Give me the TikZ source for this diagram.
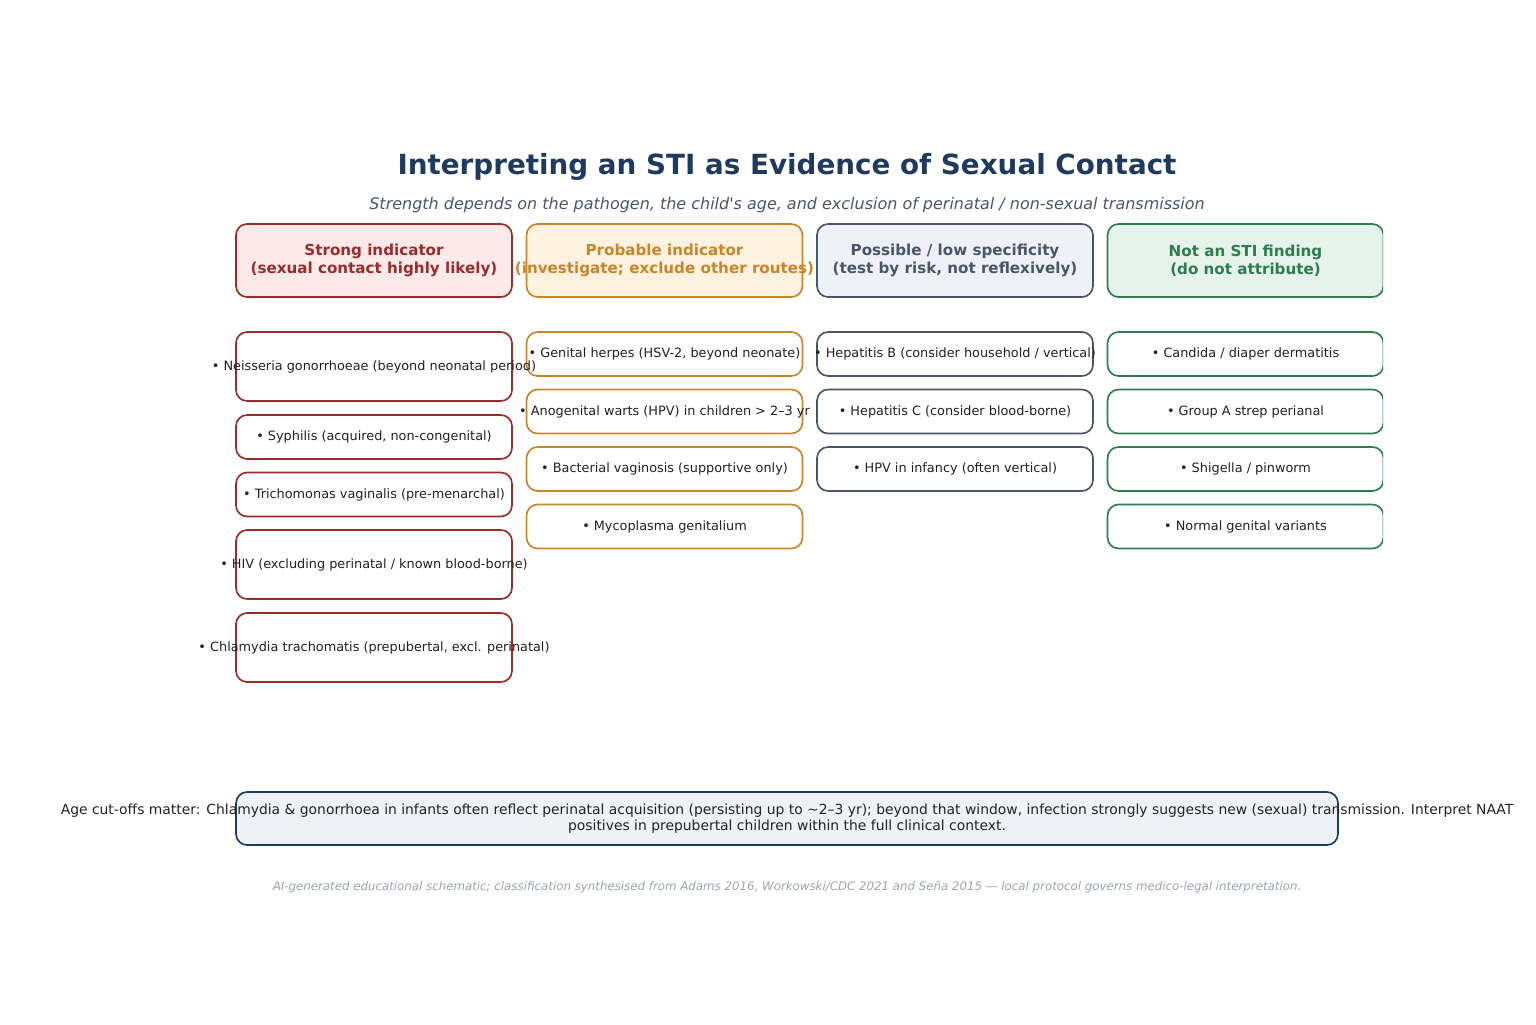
\documentclass[tikz,border=0pt]{standalone}
\usepackage{fontspec}
\setmainfont{DejaVu Sans}
\definecolor{titleblue}{HTML}{1F3A5F}
\definecolor{subgrey}{HTML}{4A5568}
\definecolor{footgrey}{HTML}{9CA3AF}
\definecolor{ink}{HTML}{222222}
\definecolor{strongc}{HTML}{9B2C2C}
\definecolor{strongf}{HTML}{FCEAEA}
\definecolor{probc}{HTML}{C8862A}
\definecolor{probf}{HTML}{FDF1E0}
\definecolor{possc}{HTML}{4A5568}
\definecolor{possf}{HTML}{EEF2F8}
\definecolor{notc}{HTML}{2F7D4F}
\definecolor{notf}{HTML}{E6F2EC}
\tikzset{
  box/.style={draw, line width=1.2pt, rounded corners=8pt, minimum width=198.7pt, inner sep=0pt},
  headbox/.style={box, minimum height=52.6pt},
  itembox/.style={box, fill=white, minimum height=31.7pt},
  tallbox/.style={box, fill=white, minimum height=49.7pt},
  headtext/.style={font=\fontsize{10.9}{12.6}\selectfont\bfseries, align=center},
  itemtext/.style={font=\fontsize{9.25}{10}\selectfont, text=ink}
}
\begin{document}
\begin{tikzpicture}[x=0.72pt, y=-0.72pt]
\useasboundingbox (0,0) rectangle (1536,1024);
\pgfmathsetmacro{\ca}{374}
\pgfmathsetmacro{\cb}{664.5}
\pgfmathsetmacro{\cc}{955}
\pgfmathsetmacro{\cd}{1245.5}
% title
\node[font=\fontsize{20}{24}\selectfont\bfseries, text=titleblue] (title) at (787,167) {Interpreting an STI as Evidence of Sexual Contact};
\node[font=\fontsize{11.5}{13}\selectfont\itshape, text=subgrey] (subtitle) at (787,205) {Strength depends on the pathogen, the child\textquotesingle s age, and exclusion of perinatal / non-sexual transmission};
% boxes
\node[headbox, draw=strongc, fill=strongf] (hs) at (\ca,260.5) {};
\node[headbox, draw=probc, fill=probf] (hp) at (\cb,260.5) {};
\node[headbox, draw=possc, fill=possf] (hq) at (\cc,260.5) {};
\node[tallbox, draw=strongc] (s1) at (\ca,366.5) {};
\node[itembox, draw=strongc] (s2) at (\ca,437) {};
\node[itembox, draw=strongc] (s3) at (\ca,494.5) {};
\node[tallbox, draw=strongc] (s4) at (\ca,564.5) {};
\node[tallbox, draw=strongc] (s5) at (\ca,647.5) {};
\node[itembox, draw=probc] (p1) at (\cb,354) {};
\node[itembox, draw=probc] (p2) at (\cb,411.5) {};
\node[itembox, draw=probc] (p3) at (\cb,469) {};
\node[itembox, draw=probc] (p4) at (\cb,526.5) {};
\node[itembox, draw=possc] (q1) at (\cc,354) {};
\node[itembox, draw=possc] (q2) at (\cc,411.5) {};
\node[itembox, draw=possc] (q3) at (\cc,469) {};
% last column is cut at the right edge
\begin{scope}
\clip (0,0) rectangle (1383,1024);
\node[headbox, draw=notc, fill=notf] (hn) at (\cd,260.5) {};
\node[itembox, draw=notc] (n1) at (\cd,354) {};
\node[itembox, draw=notc] (n2) at (\cd,411.5) {};
\node[itembox, draw=notc] (n3) at (\cd,469) {};
\node[itembox, draw=notc] (n4) at (\cd,526.5) {};
\end{scope}
% headers
\node[headtext, text=strongc] (hst) at (hs) {Strong indicator\\(sexual contact highly likely)};
\node[headtext, text=probc] (hpt) at (hp) {Probable indicator\\(investigate; exclude other routes)};
\node[headtext, text=possc] (hqt) at (hq) {Possible / low specificity\\(test by risk, not reflexively)};
\node[headtext, text=notc] (hnt) at (hn) {Not an STI finding\\(do not attribute)};
% items
\node[itemtext] (s1t) at (s1) {• Neisseria gonorrhoeae (beyond neonatal period)};
\node[itemtext] (s2t) at (s2) {• Syphilis (acquired, non-congenital)};
\node[itemtext] (s3t) at (s3) {• Trichomonas vaginalis (pre-menarchal)};
\node[itemtext] (s4t) at (s4) {• HIV (excluding perinatal / known blood-borne)};
\node[itemtext] (s5t) at (s5) {• Chlamydia trachomatis (prepubertal, excl. perinatal)};
\node[itemtext] (p1t) at (p1) {• Genital herpes (HSV-2, beyond neonate)};
\node[itemtext] (p2t) at (p2) {• Anogenital warts (HPV) in children > 2–3 yr};
\node[itemtext] (p3t) at (p3) {• Bacterial vaginosis (supportive only)};
\node[itemtext] (p4t) at (p4) {• Mycoplasma genitalium};
\node[itemtext] (q1t) at (q1) {• Hepatitis B (consider household / vertical)};
\node[itemtext] (q2t) at (q2) {• Hepatitis C (consider blood-borne)};
\node[itemtext] (q3t) at (q3) {• HPV in infancy (often vertical)};
\node[itemtext] (n1t) at (n1) {• Candida / diaper dermatitis};
\node[itemtext] (n2t) at (n2) {• Group A strep perianal};
\node[itemtext] (n3t) at (n3) {• Shigella / pinworm};
\node[itemtext] (n4t) at (n4) {• Normal genital variants};
% note
\node[box, draw=titleblue, fill=possf, minimum width=793.4pt, minimum height=38.2pt] (note) at (787,818.5) {};
\node[font=\fontsize{10}{11.5}\selectfont, text=ink, align=center] (notetext) at (note.center) {Age cut-offs matter: Chlamydia \& gonorrhoea in infants often reflect perinatal acquisition (persisting up to \textasciitilde 2–3 yr); beyond that window, infection strongly suggests new (sexual) transmission. Interpret NAAT\\positives in prepubertal children within the full clinical context.};
% footer
\node[font=\fontsize{8.5}{10}\selectfont\itshape, text=footgrey] (foot) at (787,887) {AI-generated educational schematic; classification synthesised from Adams 2016, Workowski/CDC 2021 and Seña 2015 — local protocol governs medico-legal interpretation.};
\end{tikzpicture}
\end{document}
